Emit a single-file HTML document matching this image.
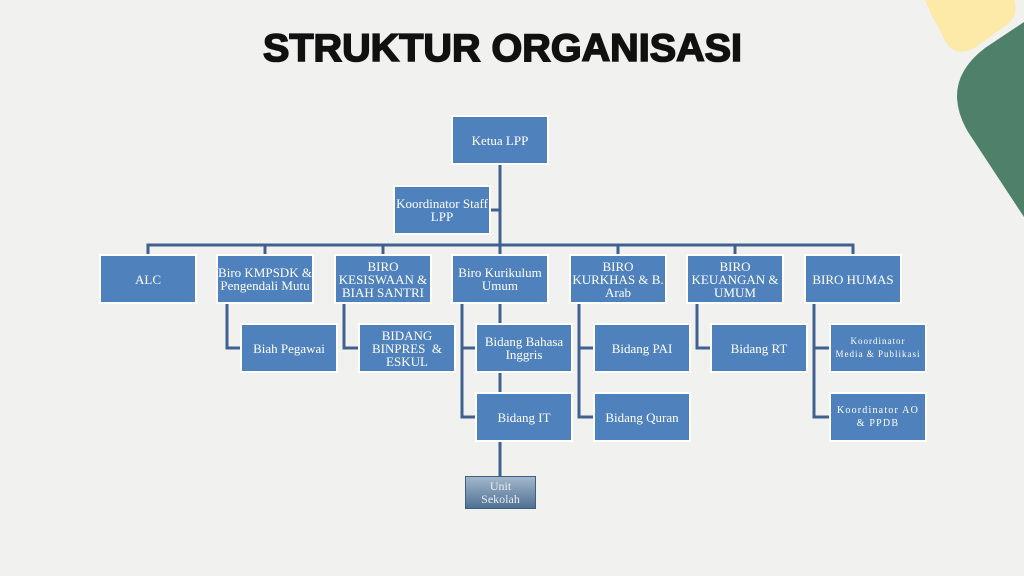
<!DOCTYPE html>
<html><head><meta charset="utf-8"><style>
html,body{margin:0;padding:0;}
body{width:1024px;height:576px;background:#f1f1ef;position:relative;overflow:hidden;font-family:"Liberation Serif",serif;}
.b{position:absolute;background:#4f81bd;color:#fff;box-shadow:0 0 0 2px #fff;display:flex;align-items:center;justify-content:center;text-align:center;font-size:13px;line-height:13px;width:94px;height:46px;box-sizing:border-box;padding:0;white-space:nowrap;}
.s{font-size:9px;letter-spacing:1px;line-height:13px;}
svg{position:absolute;left:0;top:0;}
</style></head><body>
<svg width="1024" height="576">
<path d="M925 0 L1014 0 Q1019 14 1008 24 L976 47 Q958 58 947 44 L931 14 Z" fill="#fde9a8"/>
<path d="M1024 22 L985 48 Q956 70 957 98 Q958 118 972 138 L1024 217 Z" fill="#4e806a"/>
<text x="263" y="61" font-family="Liberation Sans, sans-serif" font-weight="bold" font-size="39" textLength="479" lengthAdjust="spacingAndGlyphs" fill="#111" stroke="#111" stroke-width="1.6">STRUKTUR ORGANISASI</text>
<g stroke="#3e6191" stroke-width="3" fill="none">
<path d="M500 163 V245"/>
<path d="M488 210 H500"/>
<path d="M148 256 V245 H853 V256"/>
<path d="M265 245 V256 M383 245 V256 M500 245 V256 M618 245 V256 M735 245 V256"/>
<path d="M227 302 V348 H242"/>
<path d="M344 302 V348 H360"/>
<path d="M462 302 V417 H477 M462 348 H477"/>
<path d="M500 302 V325 M500 371 V394 M500 439 V477"/>
<path d="M579 302 V417 H595 M579 348 H595"/>
<path d="M697 302 V348 H712"/>
<path d="M814 302 V417 H831 M814 348 H831"/>
</g>
</svg>
<div class="b" style="left:453px;top:117px;">Ketua LPP</div>
<div class="b" style="left:395px;top:187px;">Koordinator Staff<br>LPP</div>
<div class="b" style="left:101px;top:256px;">ALC</div>
<div class="b" style="left:218px;top:256px;">Biro KMPSDK &amp;<br>Pengendali Mutu</div>
<div class="b" style="left:336px;top:256px;">BIRO<br>KESISWAAN &amp;<br>BIAH SANTRI</div>
<div class="b" style="left:453px;top:256px;">Biro Kurikulum<br>Umum</div>
<div class="b" style="left:571px;top:256px;">BIRO<br>KURKHAS &amp; B.<br>Arab</div>
<div class="b" style="left:688px;top:256px;">BIRO<br>KEUANGAN &amp;<br>UMUM</div>
<div class="b" style="left:806px;top:256px;">BIRO HUMAS</div>
<div class="b" style="left:242px;top:325px;">Biah Pegawai</div>
<div class="b" style="left:360px;top:325px;">BIDANG<br>BINPRES &nbsp;&amp;<br>ESKUL</div>
<div class="b" style="left:477px;top:325px;">Bidang Bahasa<br>Inggris</div>
<div class="b" style="left:477px;top:394px;">Bidang IT</div>
<div class="b" style="left:595px;top:325px;">Bidang PAI</div>
<div class="b" style="left:595px;top:394px;">Bidang Quran</div>
<div class="b" style="left:712px;top:325px;">Bidang RT</div>
<div class="b s" style="left:831px;top:325px;">Koordinator<br>Media &amp; Publikasi</div>
<div class="b s" style="left:831px;top:394px;font-size:10px;letter-spacing:1.2px;">Koordinator AO<br>&amp; PPDB</div>
<div class="b" style="left:466px;top:477px;width:69px;height:31px;background:linear-gradient(#a3b7cb,#4f7094);box-shadow:0 0 0 1px #3f5f80;font-size:12px;line-height:13px;color:#e8ecf2;">Unit<br>Sekolah</div>
</body></html>
